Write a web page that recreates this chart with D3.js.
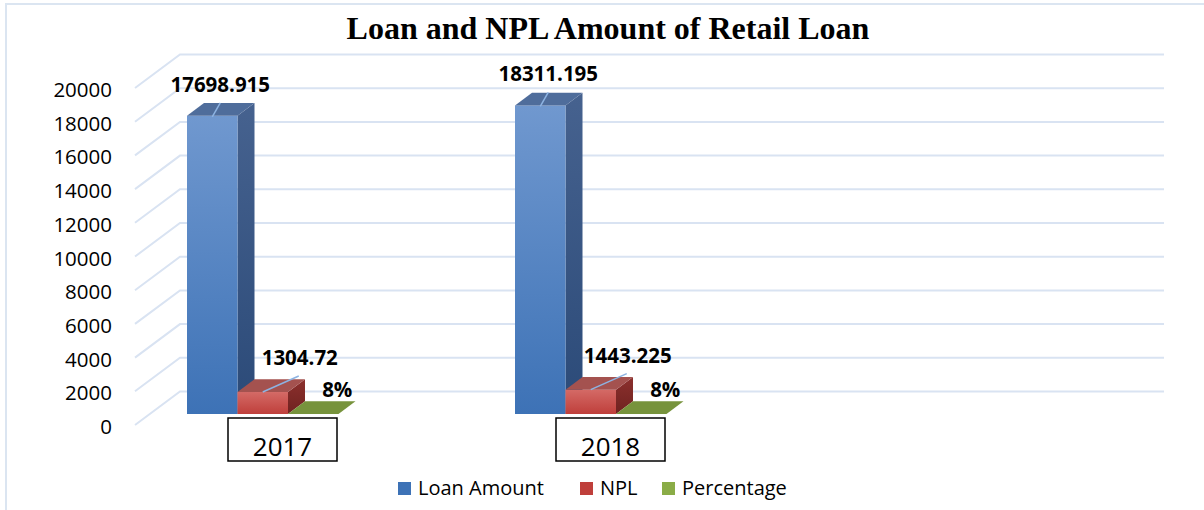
<!DOCTYPE html>
<html>
<head>
<meta charset="utf-8">
<script src="https://cdn.jsdelivr.net/npm/d3@7"></script>
<style>
  body { margin: 0; background: #fff; }
  svg { display: block; }
</style>
</head>
<body>
<svg id="drawing_region"></svg>
<script>
// chart data
const categories = ['2017', '2018'];
const seriesNames = ['Loan Amount', 'NPL', 'Percentage'];
const loanAmount = [17698.915, 18311.195];
const nplAmount = [1304.72, 1443.225];
const percentage = [0.08, 0.08];
const yTicks = [0, 2000, 4000, 6000, 8000, 10000, 12000, 14000, 16000, 18000, 20000];

const values = [loanAmount, nplAmount, percentage];
const labelText = [d => String(d), d => String(d), d => Math.round(d * 100) + '%'];

const W = 1204, H = 510;
const FONT = '"Open Sans", Carlito, Lato, sans-serif';
const svg = d3.select('#drawing_region').attr('width', W).attr('height', H);

// 3d look: wall depth and bar depth (oblique projection)
const wall = { dx: 45, dy: -33.5 };
const barShift = { dx: 15, dy: -11 };   // bars sit in the middle third of depth
const barDepth = { dx: 17, dy: -12.7 };

const y = d3.scaleLinear().domain([0, 20000]).range([425, 88]);
const x0 = d3.scaleBand().domain(categories.concat([''])).range([135, 1119]);
const x1 = d3.scaleBand().domain(seriesNames).range([37, 188.5]);

const colors = {
  'Loan Amount': { top: ['#7098cf', '#3d72b6'], side: ['#46628f', '#2b4a78'], lid: '#4f6d9b' },
  'NPL': { top: ['#d46a66', '#bf3f3b'], side: ['#8c302d', '#6f2220'], lid: '#a4524f' },
  'Percentage': { top: ['#9bbb59', '#8aac47'], side: ['#5f7a2c', '#4e6723'], lid: '#77933c' }
};

// gradients
const defs = svg.append('defs');
seriesNames.forEach((s, i) => {
  ['top', 'side'].forEach(part => {
    const g = defs.append('linearGradient')
      .attr('id', `g${i}${part}`)
      .attr('x1', 0).attr('y1', 0).attr('x2', 0).attr('y2', 1);
    g.append('stop').attr('offset', '0%').attr('stop-color', colors[s][part][0]);
    g.append('stop').attr('offset', '100%').attr('stop-color', colors[s][part][1]);
  });
});

// outer frame
svg.append('path')
  .attr('d', `M6,${H} L6,4 L${W},4`)
  .attr('fill', 'none')
  .attr('stroke', '#dbe5f1')
  .attr('stroke-width', 2);

// title
svg.append('text')
  .attr('x', 608).attr('y', 39)
  .attr('text-anchor', 'middle')
  .style('font-family', '"Liberation Serif", "Times New Roman", serif')
  .style('font-weight', 'bold')
  .style('font-size', '32px')
  .text('Loan and NPL Amount of Retail Loan');

// gridlines: side wall diagonals + back wall
const grid = svg.append('g');
yTicks.forEach(t => {
  const yf = y(t);
  grid.append('path')
    .attr('d', `M${x0.range()[0]},${yf} L${x0.range()[0] + wall.dx},${yf + wall.dy} L${x0.range()[1] + wall.dx},${yf + wall.dy}`)
    .attr('fill', 'none')
    .attr('stroke', '#d9e3f2')
    .attr('stroke-width', 2);
});

// y axis labels
svg.append('g').selectAll('text')
  .data(yTicks)
  .join('text')
  .attr('x', 112)
  .attr('y', d => y(d) + 9)
  .attr('text-anchor', 'end')
  .style('font-family', FONT)
  .style('font-size', '20.5px')
  .style('fill', '#000')
  .text(d => d);

// bars
const bars = [];
categories.forEach((c, ci) => {
  seriesNames.forEach((s, si) => {
    bars.push({ cat: c, series: s, si: si, value: values[si][ci] });
  });
});

const barG = svg.append('g');
bars.forEach(b => {
  const xl = x0(b.cat) + x1(b.series) + barShift.dx;
  const xr = xl + x1.bandwidth();
  const yb = y(0) + barShift.dy;
  const yt = y(b.value) + barShift.dy;
  const dx = barDepth.dx, dy = barDepth.dy;
  const g = barG.append('g');
  if (yb - yt > 0.5) {
    g.append('path')
      .attr('d', `M${xr},${yt} L${xr + dx},${yt + dy} L${xr + dx},${yb + dy} L${xr},${yb} Z`)
      .attr('fill', `url(#g${b.si}side)`);
    g.append('rect')
      .attr('x', xl).attr('y', yt)
      .attr('width', xr - xl).attr('height', yb - yt)
      .attr('fill', `url(#g${b.si}top)`);
  }
  g.append('path')
    .attr('d', `M${xl},${yt} L${xr},${yt} L${xr + dx},${yt + dy} L${xl + dx},${yt + dy} Z`)
    .attr('fill', colors[b.series].lid);
  b.cx = (xl + xr) / 2;
  b.top = yt;
});

// data labels with leader lines
const labelOffset = {
  'Loan Amount': { lx: 8, ly: -24, leader: [0, 1, 8, -13] },
  'NPL': { lx: 37, ly: -27, leader: [0, 0, 36, -16] },
  'Percentage': { lx: 24, ly: -17, leader: null }
};
const lab = svg.append('g');
bars.forEach(b => {
  const o = labelOffset[b.series];
  if (o.leader) {
    lab.append('line')
      .attr('x1', b.cx + o.leader[0]).attr('y1', b.top + o.leader[1])
      .attr('x2', b.cx + o.leader[2]).attr('y2', b.top + o.leader[3])
      .attr('stroke', '#8db3e2')
      .attr('stroke-width', 1.5);
  }
  lab.append('text')
    .attr('x', b.cx + o.lx)
    .attr('y', b.top + o.ly)
    .attr('text-anchor', 'middle')
    .style('font-family', FONT)
    .style('font-weight', 'bold')
    .style('font-size', '20.5px')
    .text(labelText[b.si](b.value));
});

// category labels in boxes
const catG = svg.append('g').selectAll('g')
  .data(categories)
  .join('g')
  .attr('transform', d => `translate(${x0(d) + 147.5}, 0)`);
catG.append('rect')
  .attr('x', -54.5).attr('y', 418)
  .attr('width', 109).attr('height', 43)
  .attr('fill', '#fff')
  .attr('stroke', '#000')
  .attr('stroke-width', 1.5);
catG.append('text')
  .attr('x', 0).attr('y', 456)
  .attr('text-anchor', 'middle')
  .style('font-family', FONT)
  .style('font-size', '26px')
  .text(d => d);

// legend
const legendX = [398, 580, 662];
const legend = svg.append('g').selectAll('g')
  .data(seriesNames)
  .join('g')
  .attr('transform', (d, i) => `translate(${legendX[i]}, 482)`);
legend.append('rect')
  .attr('width', 13).attr('height', 13)
  .attr('fill', d => colors[d].top[1]);
legend.append('text')
  .attr('x', 20).attr('y', 13)
  .style('font-family', FONT)
  .style('font-size', '20px')
  .text(d => d);
</script>
</body>
</html>
